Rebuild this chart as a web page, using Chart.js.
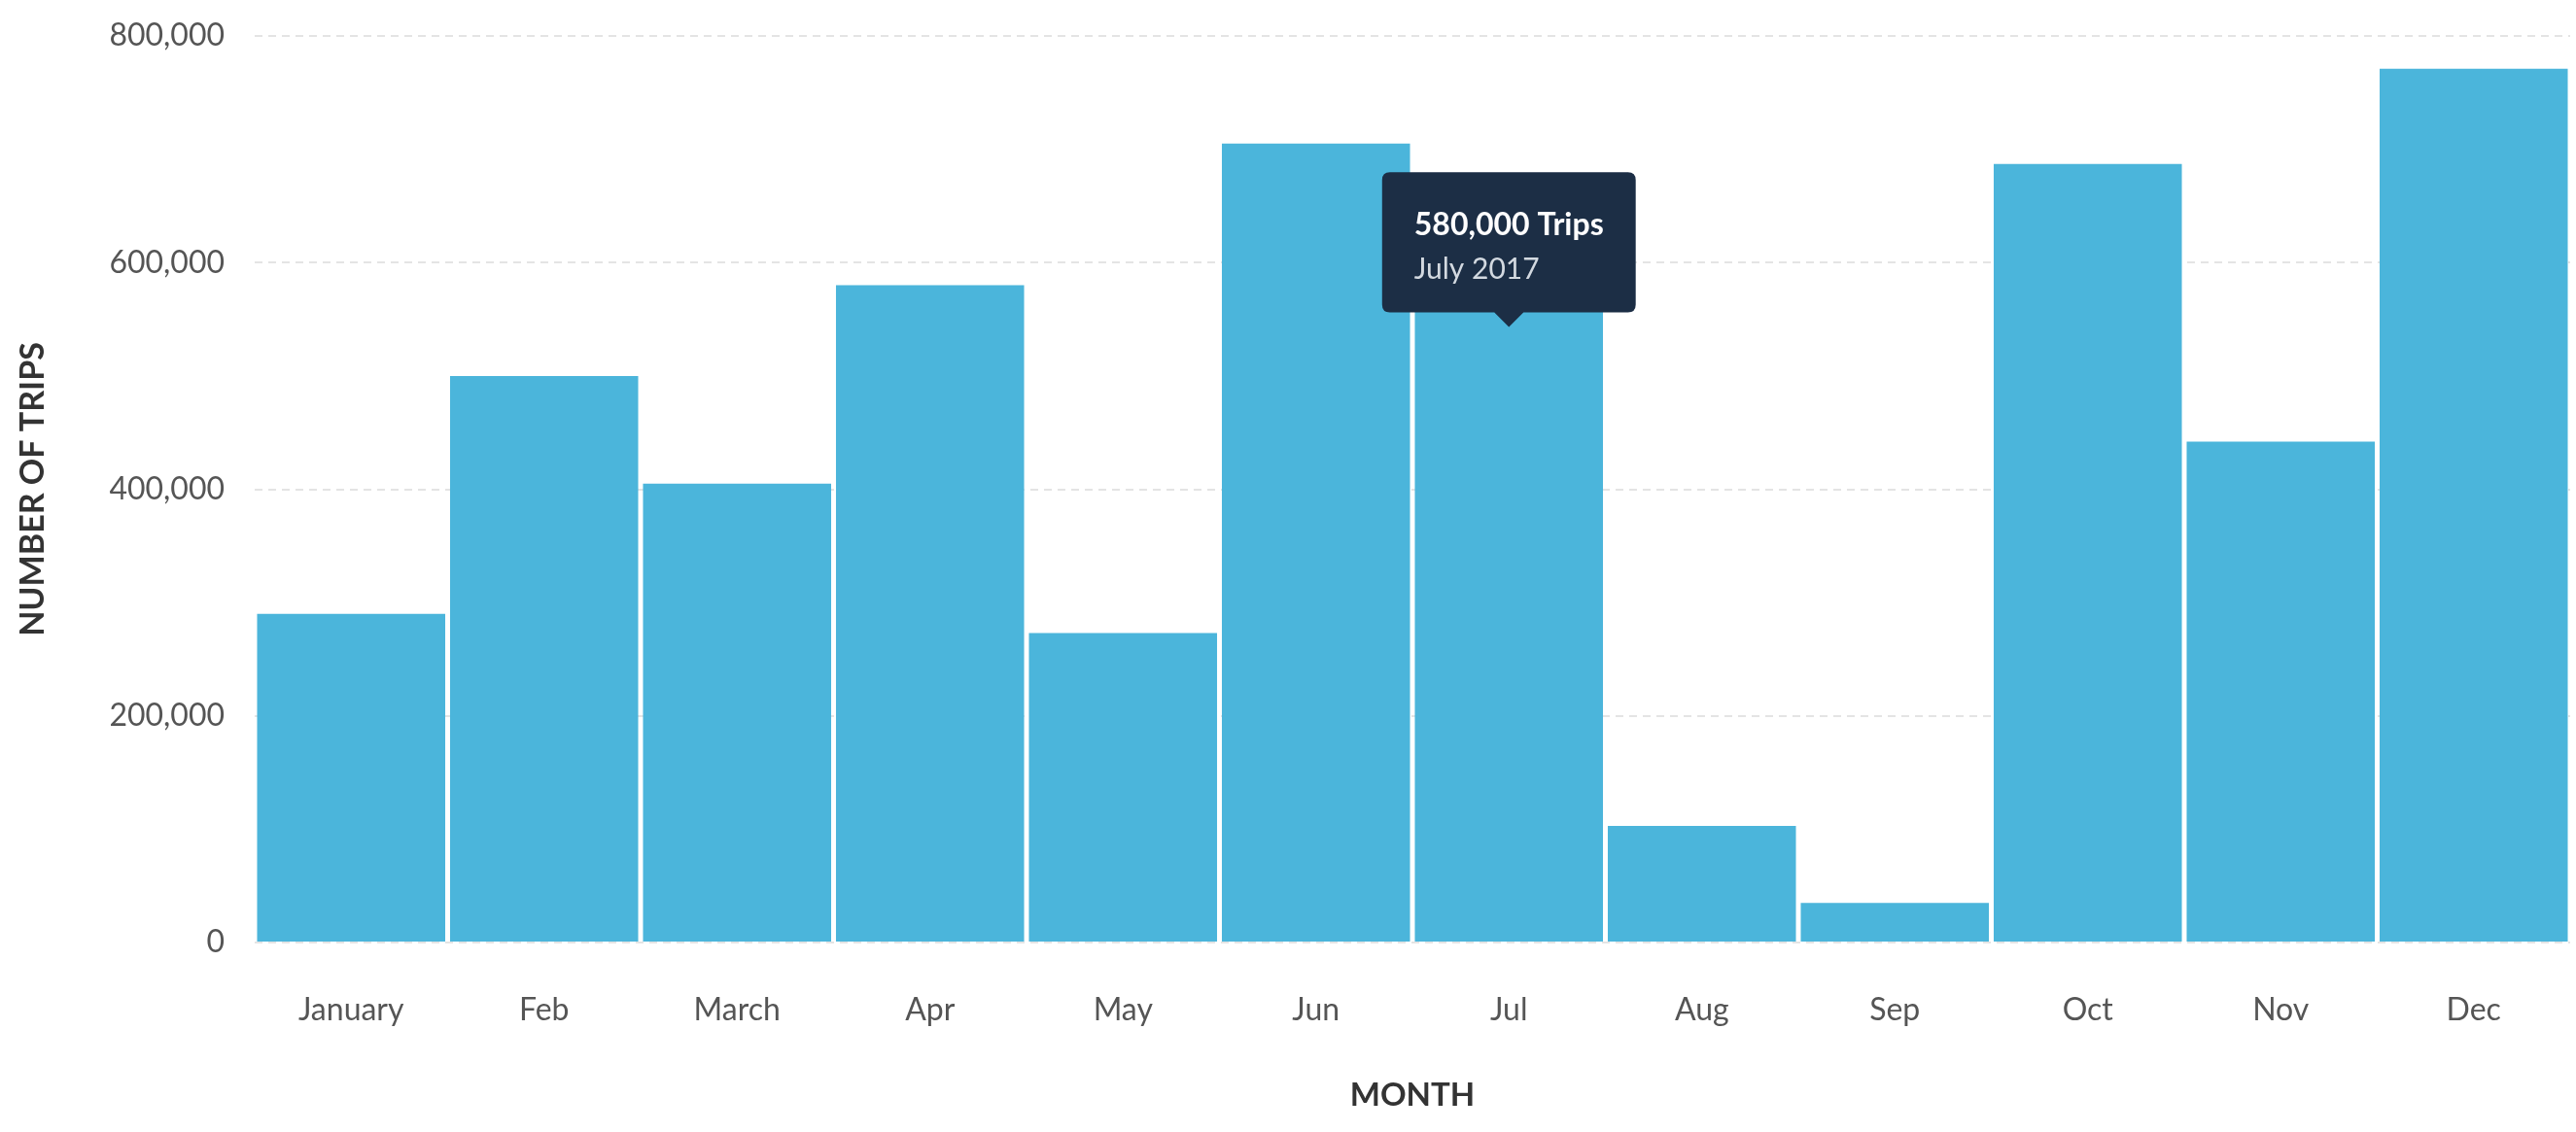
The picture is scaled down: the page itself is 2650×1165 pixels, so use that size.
<!DOCTYPE html>
<html>
<head>
<meta charset="utf-8">
<title>Trips per month</title>
<script src="https://cdn.jsdelivr.net/npm/chart.js@4/dist/chart.umd.min.js"></script>
<style>
    html, body { margin: 0; padding: 0; background: #fff; }
    #wrap { width: 2650px; height: 1165px; position: relative; }
</style>
</head>
<body>
<div id="wrap"><canvas id="myChart"></canvas></div>
<script>
const months = ['January', 'Feb', 'March', 'Apr', 'May', 'Jun', 'Jul', 'Aug', 'Sep', 'Oct', 'Nov', 'Dec'];
const monthNames = ['January', 'February', 'March', 'April', 'May', 'June', 'July', 'August', 'September', 'October', 'November', 'December'];
const year = 2017;
const trips = [290000, 500000, 405000, 580000, 273000, 705000, 580000, 103000, 35000, 687000, 442000, 771000];
const yTicks = [0, 200000, 400000, 600000, 800000];
const highlighted = 6;

const barColor = '#4bb5db';

// tooltip sits a little below the top of the hovered bar
Chart.Tooltip.positioners.barTop = function(elements) {
    if (!elements.length) return false;
    const el = elements[0].element;
    return { x: el.x, y: el.y + 43 };
};

function plot() {
    Chart.defaults.font.family = 'Lato';
    let ctx = document.getElementById('myChart').getContext('2d');

    let tripsChart = new Chart(ctx, {
        type: 'bar',
        data: {
            labels: months,
            datasets: [{
                data: trips,
                backgroundColor: barColor,
                hoverBackgroundColor: barColor,
                borderWidth: 0,
                barPercentage: 0.975,
                categoryPercentage: 1.0
            }]
        },
        options: {
            responsive: true,
            maintainAspectRatio: false,
            devicePixelRatio: 1,
            animation: false,
            events: [],
            layout: {
                padding: { top: 37, right: 6, bottom: 0, left: 0 }
            },
            plugins: {
                legend: { display: false },
                tooltip: {
                    position: 'barTop',
                    yAlign: 'bottom',
                    xAlign: 'center',
                    backgroundColor: '#1c2e45',
                    titleColor: '#ffffff',
                    bodyColor: '#d3d9e0',
                    titleFont: { size: 32, weight: 'bold' },
                    bodyFont: { size: 30 },
                    titleMarginBottom: 9,
                    padding: { top: 35, bottom: 26, left: 33, right: 33 },
                    caretSize: 15,
                    caretPadding: 0,
                    cornerRadius: 8,
                    displayColors: false,
                    callbacks: {
                        title: items => items[0].raw.toLocaleString('en-US') + ' Trips',
                        label: item => monthNames[item.dataIndex] + ' ' + year
                    }
                }
            },
            scales: {
                x: {
                    grid: { display: false, drawTicks: false },
                    border: { display: false },
                    ticks: {
                        color: '#555',
                        font: { size: 32 },
                        padding: 50
                    },
                    title: {
                        display: true,
                        text: 'MONTH',
                        color: '#333',
                        font: { size: 33, weight: 'bold' },
                        padding: { top: 0, bottom: 18 }
                    },
                    afterFit: s => { s.height = 195; }
                },
                y: {
                    min: 0,
                    max: 800000,
                    afterBuildTicks: s => { s.ticks = yTicks.map(v => ({ value: v })); },
                    grid: {
                        color: '#e4e4e4',
                        lineWidth: 2,
                        drawTicks: false
                    },
                    border: { display: false, dash: [8, 6] },
                    ticks: {
                        color: '#555',
                        font: { size: 32 },
                        padding: 31,
                        callback: v => v.toLocaleString('en-US')
                    },
                    title: {
                        display: true,
                        text: 'NUMBER OF TRIPS',
                        color: '#333',
                        font: { size: 34, weight: 'bold' },
                        padding: { top: 14, bottom: 0 }
                    },
                    afterFit: s => {
                        s.width = 262;
                        // the layout padding already leaves room for the top label
                        s.paddingTop = 0;
                        s.paddingBottom = 0;
                    }
                }
            }
        }
    });

    const active = [{ datasetIndex: 0, index: highlighted }];
    tripsChart.setActiveElements(active);
    tripsChart.tooltip.setActiveElements(active, { x: 0, y: 0 });
    tripsChart.update();
}

Promise.all([
    document.fonts.load('30px Lato'),
    document.fonts.load('bold 30px Lato')
]).then(plot, plot);
</script>
</body>
</html>
